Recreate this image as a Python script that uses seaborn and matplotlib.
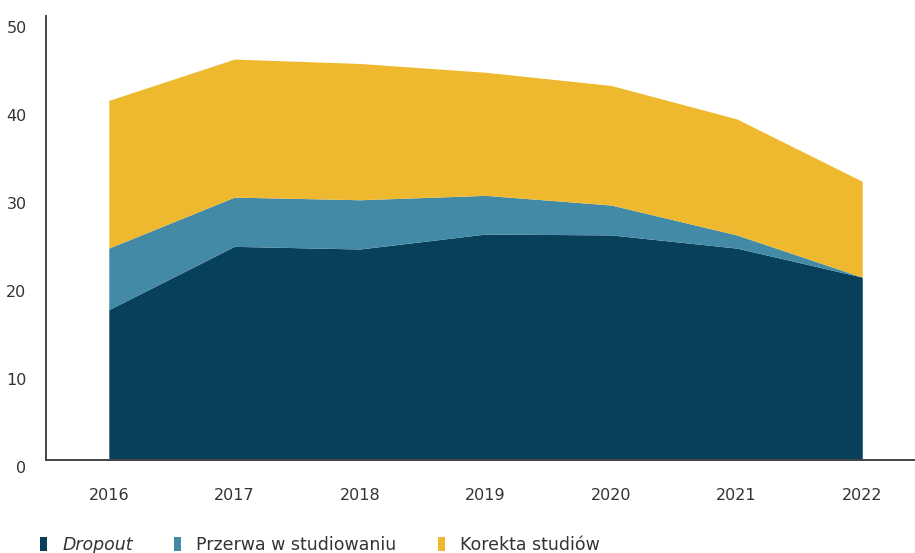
import matplotlib
matplotlib.use("Agg")
import matplotlib.pyplot as plt
import matplotlib.transforms as mtransforms
from matplotlib.patches import Patch
import seaborn as sns

years = [2016, 2017, 2018, 2019, 2020, 2021, 2022]
dropout = [17.1, 24.3, 24.0, 25.7, 25.6, 24.1, 20.8]
przerwa = [7.0, 5.6, 5.6, 4.4, 3.4, 1.5, 0.0]
korekta = [16.8, 15.7, 15.5, 14.0, 13.6, 13.2, 10.9]
series_labels = ["Dropout", "Przerwa w studiowaniu", "Korekta studiów"]
colors = ["#083F5A", "#428AA6", "#EFB92F"]
yticks = [0, 10, 20, 30, 40, 50]

sns.set_theme(style="white")
plt.rcParams["font.family"] = ["DejaVu Sans"]

fig = plt.figure(figsize=(9.15, 5.53), dpi=100)
ax = fig.add_axes([46 / 915, 1 - 460 / 553, 1 - 46 / 915, (460 - 16) / 553])

ax.stackplot(years, dropout, przerwa, korekta, colors=colors, linewidth=0)

ax.set_xlim(2015.5, 2022.42)
ax.set_ylim(0, 50.5)
ax.set_xticks(years)
ax.set_xticklabels([str(y) for y in years])
ax.set_yticks(yticks)
ax.set_yticklabels([str(t) for t in yticks])
ax.tick_params(axis="both", length=0, labelsize=11.5, colors="#333333")
ax.tick_params(axis="x", pad=20)
ax.tick_params(axis="y", pad=14)
offset = mtransforms.ScaledTranslation(0, -7 / 100, fig.dpi_scale_trans)
for lbl in ax.get_yticklabels():
    lbl.set_transform(lbl.get_transform() + offset)

for side in ["top", "right"]:
    ax.spines[side].set_visible(False)
for side in ["left", "bottom"]:
    ax.spines[side].set_color("#444444")
    ax.spines[side].set_linewidth(1.4)

handles = [Patch(facecolor=c, edgecolor="none") for c in colors]
leg = fig.legend(handles, series_labels, loc="lower left",
                 bbox_to_anchor=(0.027, -0.03), ncol=3, frameon=False,
                 handlelength=0.4, handleheight=0.95, handletextpad=0.86,
                 columnspacing=2.4, fontsize=12.5)
for txt in leg.get_texts():
    txt.set_color("#333333")
leg.get_texts()[0].set_style("italic")

fig.savefig("out.png", dpi=100)
